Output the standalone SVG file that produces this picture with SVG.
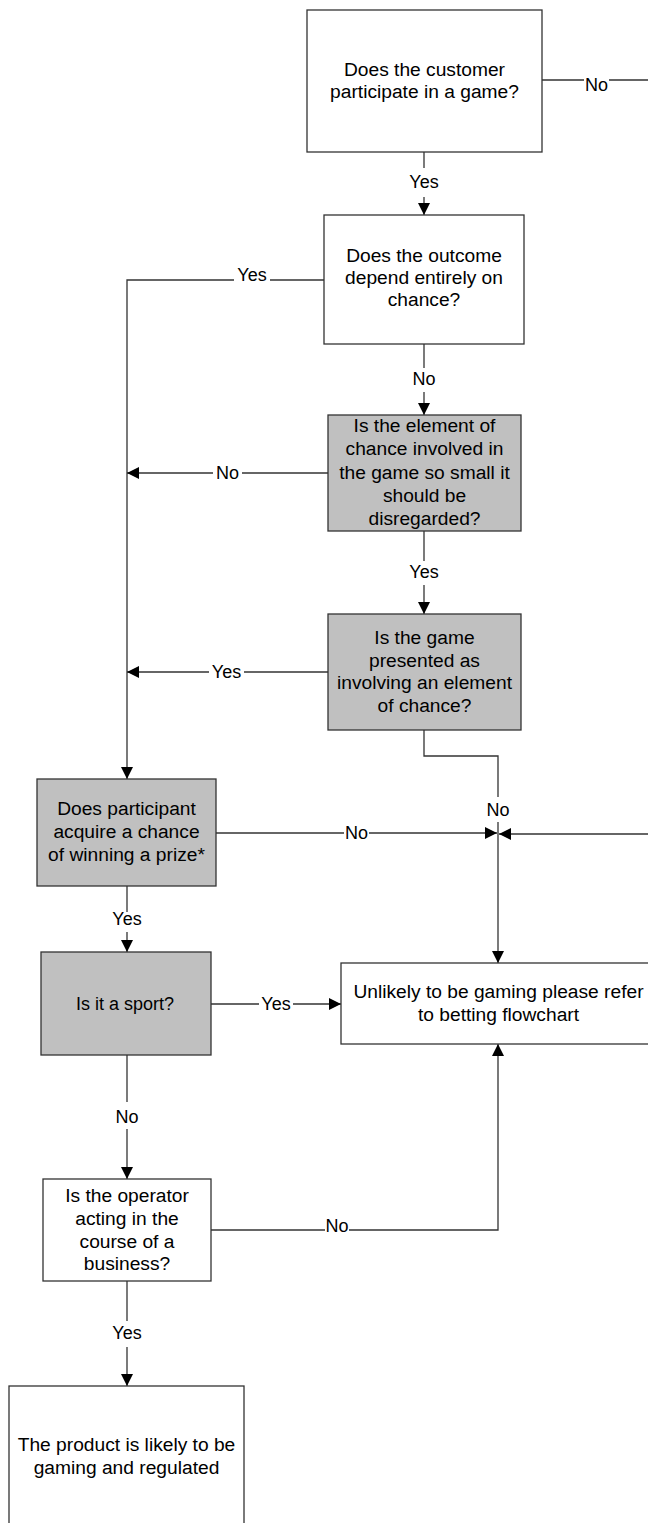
<svg xmlns="http://www.w3.org/2000/svg" width="648" height="1523" viewBox="0 0 648 1523">
<style>
.box{fill:#ffffff;stroke:#333333;stroke-width:1.3}
.grey{fill:#c0c0c0;stroke:#333333;stroke-width:1.3}
.t{font-family:"Liberation Sans",Arial,sans-serif;font-size:19.2px;fill:#000;text-anchor:middle}
.l{font-family:"Liberation Sans",Arial,sans-serif;font-size:18px;fill:#000;text-anchor:middle}
.c{fill:none;stroke:#333333;stroke-width:1.3}
.a{fill:none;stroke:#333333;stroke-width:1.3;marker-end:url(#arr)}
</style>
<defs>
<marker id="arr" viewBox="0 0 12 12" refX="12" refY="6" markerWidth="12" markerHeight="12" markerUnits="userSpaceOnUse" orient="auto">
<path d="M0,0 L12,6 L0,12 z" fill="#000"/>
</marker>
</defs>
<rect width="648" height="1523" fill="#ffffff"/>
<g id="connectors">
<path class="c" d="M542,80 H584 M609,80 H648"/>
<text class="l" x="596.5" y="91">No</text>
<path class="c" d="M424,152 V168"/>
<path class="a" d="M424,197 V215"/>
<text class="l" x="424" y="188">Yes</text>
<path class="c" d="M324,280 H270"/>
<path class="a" d="M234,280 H127 V779"/>
<text class="l" x="252" y="281">Yes</text>
<path class="c" d="M424,344 V368"/>
<path class="a" d="M424,392 V415"/>
<text class="l" x="424" y="385">No</text>
<path class="c" d="M328,473 H242"/>
<path class="a" d="M213,473 H127"/>
<text class="l" x="227.5" y="479">No</text>
<path class="c" d="M424,531 V561"/>
<path class="a" d="M424,585 V614"/>
<text class="l" x="424" y="578">Yes</text>
<path class="c" d="M328,672 H244"/>
<path class="a" d="M209,672 H127"/>
<text class="l" x="226.5" y="678">Yes</text>
<path class="c" d="M424,730 V756 H498 V797"/>
<path class="a" d="M498,822 V963"/>
<text class="l" x="498" y="815.5">No</text>
<path class="c" d="M216,833 H344"/>
<path class="a" d="M369,833 H497"/>
<text class="l" x="356.5" y="839">No</text>
<path class="a" d="M648,834 H499"/>
<path class="c" d="M127,886 V912"/>
<path class="a" d="M127,932 V952"/>
<text class="l" x="127" y="925">Yes</text>
<path class="c" d="M211,1004 H259"/>
<path class="a" d="M293,1004 H341"/>
<text class="l" x="276" y="1010">Yes</text>
<path class="c" d="M127,1055 V1102"/>
<path class="a" d="M127,1129 V1179"/>
<text class="l" x="127" y="1123">No</text>
<path class="c" d="M211,1230 H325"/>
<path class="a" d="M349,1230 H498 V1044"/>
<text class="l" x="337" y="1232">No</text>
<path class="c" d="M127,1281 V1321"/>
<path class="a" d="M127,1347 V1386"/>
<text class="l" x="127" y="1339">Yes</text>
</g>
<g id="n1">
<rect class="box" x="307" y="10" width="235" height="142"/>
<text class="t" x="424.5" y="76">Does the customer</text>
<text class="t" x="424.5" y="98">participate in a game?</text>
</g>
<g id="n2">
<rect class="box" x="324" y="215" width="200" height="129"/>
<text class="t" x="424" y="262">Does the outcome</text>
<text class="t" x="424" y="284">depend entirely on</text>
<text class="t" x="424" y="306">chance?</text>
</g>
<g id="n3">
<rect class="grey" x="328" y="415" width="193" height="116"/>
<text class="t" x="424.5" y="432">Is the element of</text>
<text class="t" x="424.5" y="455.3">chance involved in</text>
<text class="t" x="424.5" y="478.6">the game so small it</text>
<text class="t" x="424.5" y="501.9">should be</text>
<text class="t" x="424.5" y="525.2">disregarded?</text>
</g>
<g id="n4">
<rect class="grey" x="328" y="614" width="193" height="116"/>
<text class="t" x="424.5" y="644">Is the game</text>
<text class="t" x="424.5" y="666.5">presented as</text>
<text class="t" x="424.5" y="689">involving an element</text>
<text class="t" x="424.5" y="711.5">of chance?</text>
</g>
<g id="n5">
<rect class="grey" x="37" y="779" width="179" height="107"/>
<text class="t" x="126.5" y="815">Does participant</text>
<text class="t" x="126.5" y="838">acquire a chance</text>
<text class="t" x="126.5" y="861">of winning a prize*</text>
</g>
<g id="n6">
<rect class="grey" x="41" y="952" width="170" height="103"/>
<text class="l" x="125" y="1010">Is it a sport?</text>
</g>
<g id="n7">
<rect class="box" x="341" y="963" width="320" height="81"/>
<text class="t" x="498.5" y="998">Unlikely to be gaming please refer</text>
<text class="t" x="498.5" y="1020.5">to betting flowchart</text>
</g>
<g id="n8">
<rect class="box" x="43" y="1179" width="168" height="102"/>
<text class="t" x="127" y="1201.5">Is the operator</text>
<text class="t" x="127" y="1224.5">acting in the</text>
<text class="t" x="127" y="1247.5">course of a</text>
<text class="t" x="127" y="1270">business?</text>
</g>
<g id="n9">
<rect class="box" x="9" y="1386" width="235" height="160"/>
<text class="t" x="126.5" y="1451">The product is likely to be</text>
<text class="t" x="126.5" y="1474">gaming and regulated</text>
</g>
</svg>
